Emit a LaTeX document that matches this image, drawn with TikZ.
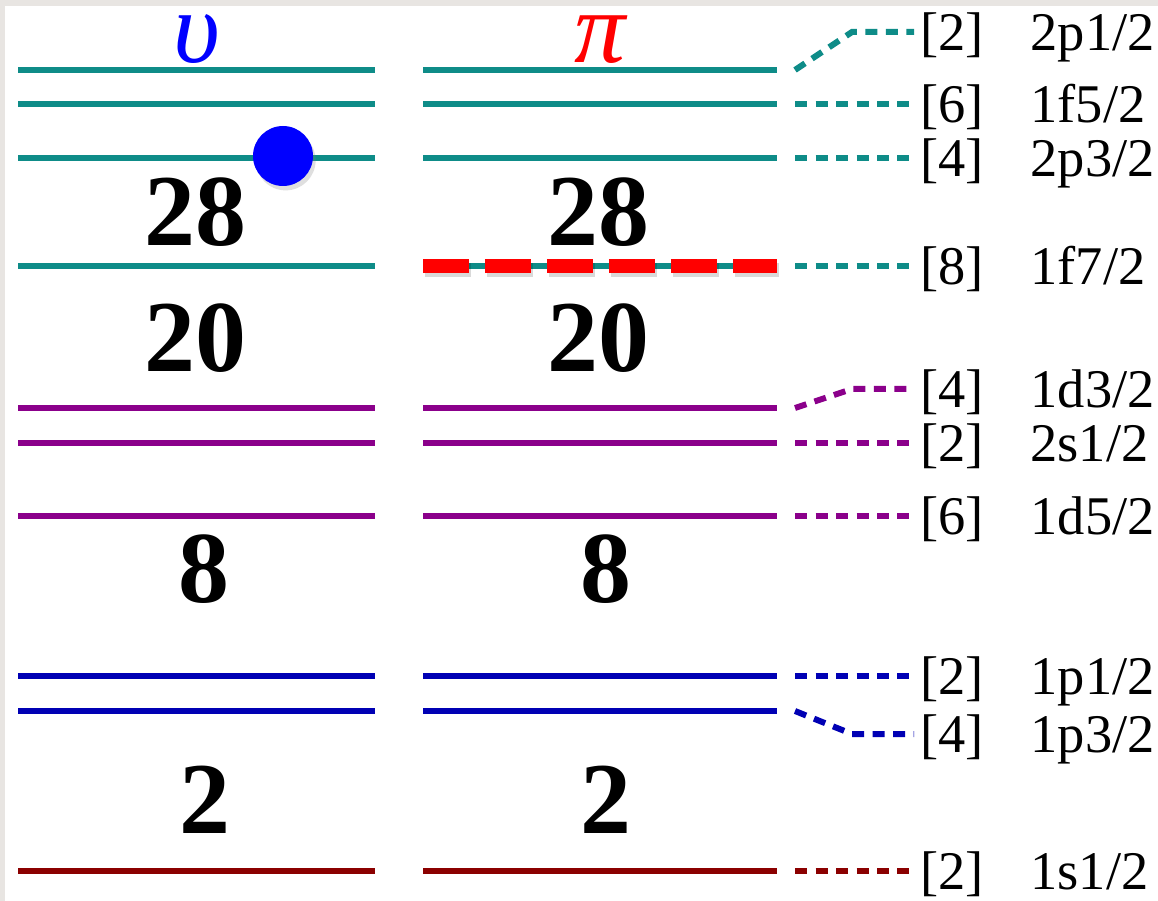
\documentclass[tikz,border=0pt]{standalone}
\usepackage{fontspec}
\setmainfont{Liberation Serif}
\usetikzlibrary{positioning,shadows}
\definecolor{teal}{HTML}{0E8C88}
\definecolor{plum}{HTML}{8B008B}
\definecolor{deepBlue}{HTML}{0000B4}
\definecolor{maroon}{HTML}{8B0000}
\definecolor{brightRed}{HTML}{FF0000}
\definecolor{dotBlue}{HTML}{0000FF}
\definecolor{frame}{HTML}{E8E5E2}
\tikzset{
  level/.style={line width=0.12cm},
  link/.style={line width=0.12cm, dash pattern=on 0.24cm off 0.17cm},
  degen/.style={anchor=west, inner xsep=0.12cm, inner ysep=0pt, text height=20.5pt,
                text depth=0pt, font=\fontsize{31}{33}\selectfont},
  orbital/.style={inner sep=0pt, text height=20.5pt, text depth=0pt,
                  font=\fontsize{31}{33}\selectfont},
  magic/.style={inner sep=0pt, font=\fontsize{58}{60}\selectfont\bfseries},
  species/.style={inner sep=0pt, text height=27pt, text depth=0pt,
                  font=\fontsize{58}{60}\selectfont\itshape},
  blocked/.style={line width=0.28cm, dash pattern=on 0.92cm off 0.32cm}
}
\begin{document}
\begin{tikzpicture}[x=0.02cm, y=-0.02cm, node distance=0.8cm]
\fill[frame] (0,0) rectangle (1158,901);
\fill[white] (5,6) rectangle (1158,901);
\useasboundingbox (0,0) rectangle (1158,901);
\node[species, text=dotBlue] (nu) at (197,39) {υ};
\node[species, text=brightRed] (pi) at (600,39) {π};
\foreach \y/\col/\nm/\ly/\g/\orb in {
  70/teal/2p1/32/2/{2p1/2},
  104/teal/1f5/104/6/{1f5/2},
  158/teal/2p3/158/4/{2p3/2},
  266/teal/1f7/266/8/{1f7/2},
  408/plum/1d3/389/4/{1d3/2},
  443/plum/2s1/443/2/{2s1/2},
  516/plum/1d5/516/6/{1d5/2},
  676/deepBlue/1p1/676/2/{1p1/2},
  711/deepBlue/1p3/734/4/{1p3/2},
  871/maroon/1s1/871/2/{1s1/2}}{
  \draw[level, draw=\col] (18,\y) -- (375,\y);
  \draw[level, draw=\col] (423,\y) -- (777,\y);
  \coordinate (end-\nm) at (795,\y);
  \node[degen] (deg-\nm) at (914,\ly) {[\g]};
  \node[orbital, right=of deg-\nm] (orb-\nm) {\orb};
  \draw[link, draw=\col] (end-\nm) -- (852,\ly) -- (deg-\nm.west);
}
\draw[blocked, draw=black, opacity=0.15, transform canvas={xshift=1pt, yshift=-2pt}] (423,266) -- (777,266);
\draw[blocked, draw=brightRed] (423,266) -- (777,266);
\node[circle, fill=dotBlue, minimum size=1.2cm, inner sep=0pt,
      drop shadow={shadow xshift=1.5pt, shadow yshift=-2.5pt, opacity=0.25}] (valence) at (283,156) {};
\node[magic] (nu28) at (195,212) {28};
\node[magic] (pi28) at (598,212) {28};
\node[magic] (nu20) at (195,338) {20};
\node[magic] (pi20) at (598,338) {20};
\node[magic] (nu8) at (204,569) {8};
\node[magic] (pi8) at (606,569) {8};
\node[magic] (nu2) at (205,800) {2};
\node[magic] (pi2) at (606,800) {2};
\end{tikzpicture}
\end{document}
